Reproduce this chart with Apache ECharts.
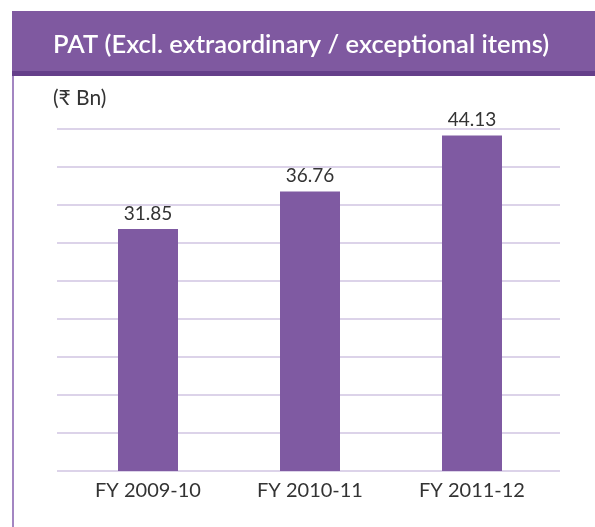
<!DOCTYPE html>
<html lang="en">
<head>
    <meta charset="UTF-8">
    <title>PAT (Excl. extraordinary / exceptional items)</title>
    <script src="https://cdn.jsdelivr.net/npm/echarts@6/dist/echarts.min.js"></script>
    <style>
        html, body { margin: 0; padding: 0; background: #fff; }
        #chart { width: 595px; height: 527px; }
    </style>
</head>
<body>
    <div id="chart"></div>
<script>
    // data
    const categories = ['FY 2009-10', 'FY 2010-11', 'FY 2011-12'];
    const patValues = [31.85, 36.76, 44.13];
    const titleText = 'PAT (Excl. extraordinary / exceptional items)';
    const unitText = '(\u20B9 Bn)';

    const purple = '#7f5aa2';
    const font = 'Lato';

    let myChart = echarts.init(document.getElementById('chart'));

    myChart.setOption({
        animation: false,
        textStyle: { fontFamily: font },
        graphic: [
            // title band
            { type: 'rect', shape: { x: 12, y: 11, width: 583, height: 60 }, style: { fill: '#7f59a0' } },
            { type: 'rect', shape: { x: 12, y: 71, width: 583, height: 5 }, style: { fill: '#653f8a' } },
            // left frame line
            { type: 'rect', shape: { x: 12, y: 76, width: 2, height: 451 }, style: { fill: '#a386c2' } },
            {
                type: 'text', left: 53, top: 32,
                style: { text: titleText, fill: '#fff', font: '600 25.5px ' + font }
            },
            {
                type: 'text', left: 53, top: 88,
                style: { text: unitText, fill: '#333', font: '21px ' + font }
            }
        ],
        grid: [
            // bars
            { left: 67, right: 42, top: 129, bottom: 56 },
            // gridlines only, slightly wider
            { left: 57, right: 35, top: 129, bottom: 56 }
        ],
        xAxis: [
            {
                gridIndex: 0,
                type: 'category',
                data: categories,
                axisLine: { show: false },
                axisTick: { show: false },
                axisLabel: { color: '#333', fontSize: 20, margin: 10, fontFamily: font }
            },
            { gridIndex: 1, type: 'value', show: false }
        ],
        yAxis: [
            { gridIndex: 0, type: 'value', min: 0, max: 45, interval: 5, show: false },
            {
                gridIndex: 1, type: 'value', min: 0, max: 45, interval: 5,
                axisLabel: { show: false },
                axisLine: { show: false },
                axisTick: { show: false },
                splitLine: { lineStyle: { color: '#dcd3e9', width: 2 } }
            }
        ],
        series: [
            {
                type: 'bar',
                xAxisIndex: 0,
                yAxisIndex: 0,
                data: patValues,
                barWidth: 60,
                z: 3,
                itemStyle: { color: purple },
                label: {
                    show: true,
                    position: 'top',
                    distance: 6,
                    color: '#333',
                    fontSize: 19,
                    fontFamily: font,
                    formatter: p => p.value.toFixed(2)
                }
            }
        ]
    });
</script>
</body>
</html>
